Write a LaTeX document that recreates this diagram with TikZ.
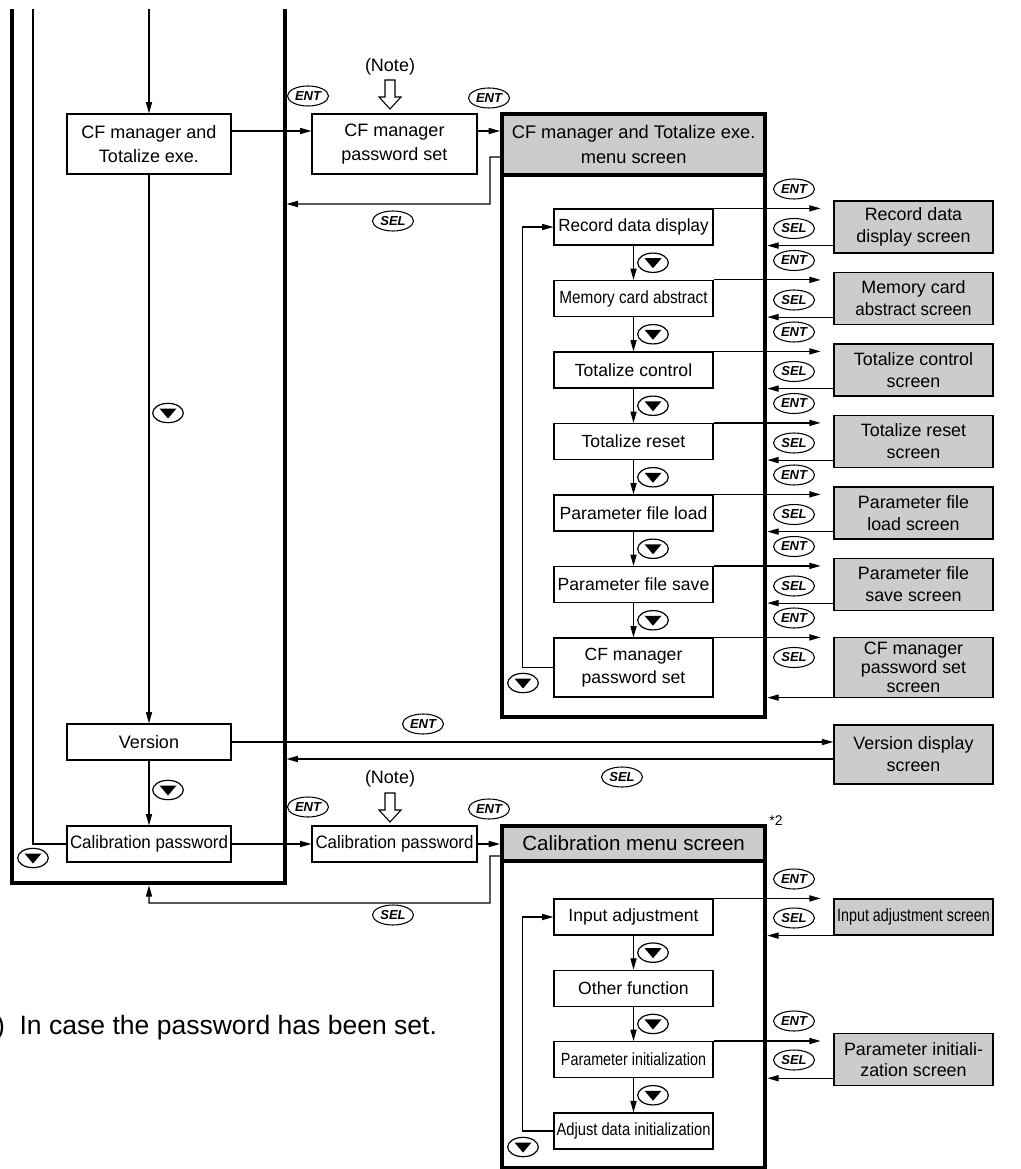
\documentclass[tikz,border=0pt]{standalone}
\usepackage{fontspec}
\setmainfont{Liberation Sans}
\usepackage{graphicx}
\usetikzlibrary{shapes.geometric,arrows.meta,calc}
\definecolor{scrgray}{RGB}{204,204,204}
\def\pxu{0.75pt}
\newcommand\sqz[2]{\scalebox{#1}[1]{#2}}
\begin{document}
\begin{tikzpicture}[x=0.75pt,y=-0.75pt,
  arr/.style={line width=0.9pt,-{Triangle[length=8.5pt,width=4.6pt]}},
  ln/.style={line width=0.9pt},
  thickfr/.style={line width=3pt},
  mbox/.style={draw,line width=0.9pt,fill=white,inner sep=0,align=center,font=\fontsize{13.5pt}{18pt}\selectfont},
  ibox/.style={draw,line width=0.9pt,fill=white,inner sep=0,align=center,minimum width=159*\pxu,minimum height=36*\pxu,font=\fontsize{13.2pt}{17.5pt}\selectfont},
  sbox/.style={draw,line width=1.1pt,fill=scrgray,inner sep=0,align=center,minimum width=159*\pxu,minimum height=52*\pxu,font=\fontsize{13.4pt}{16.5pt}\selectfont},
  hdr/.style={draw,line width=3pt,fill=scrgray,inner sep=0,align=center,minimum width=263.3*\pxu},
  kbtn/.style={ellipse,draw,line width=0.8pt,minimum width=30.75pt,minimum height=15pt,inner sep=0,font=\fontsize{9.75pt}{9.75pt}\selectfont\bfseries\itshape},
  dkey/.style={ellipse,draw,line width=0.9pt,minimum width=23pt,minimum height=14.5pt,inner sep=0,
    path picture={\fill ([shift={(-8.5,-4.5)}]path picture bounding box.center) -- ([shift={(8.5,-4.5)}]path picture bounding box.center) -- ([shift={(0,5.5)}]path picture bounding box.center) -- cycle;}},
  notelbl/.style={font=\fontsize{13.5pt}{16pt}\selectfont,inner sep=0}
]
\useasboundingbox (0,0) rectangle (1020,1169);
\clip (0,0) rectangle (1020,1169);

% ---------- left column ----------
\coordinate (topL) at (33,9);
\coordinate (topM) at (149,9);
\coordinate (rtopO) at (286.5,9);
\coordinate (fbot) at (149,885.3);
\draw[thickfr] (12,9) -- (12,883.3) -- (284.5,883.3) -- (284.5,9);

\node[mbox,minimum width=164*\pxu,minimum height=60*\pxu] (cfm) at (149,144) {CF manager and\\Totalize exe.};
\node[mbox,minimum width=165*\pxu,minimum height=60*\pxu] (cfpw) at (394.5,144) {CF manager\\password set};
\node[mbox,minimum width=164*\pxu,minimum height=36*\pxu] (ver) at (149,742) {Version};
\node[mbox,minimum width=164*\pxu,minimum height=36*\pxu] (calp) at (149,844) {\sqz{0.94}{Calibration password}};
\node[mbox,minimum width=165*\pxu,minimum height=36*\pxu] (calp2) at (394.5,844) {\sqz{0.94}{Calibration password}};

\node[notelbl] (nt1) at (390,67) {(Note)};
\node[notelbl] (nt2) at (390,779) {(Note)};
\draw[line width=0.8pt,fill=white] (385,80) -- (395,80) -- (395,97) -- (401,97) -- (390,109) -- (379,97) -- (385,97) -- cycle;
\draw[line width=0.8pt,fill=white] (385,793) -- (395,793) -- (395,810) -- (401,810) -- (390,822) -- (379,810) -- (385,810) -- cycle;

% ---------- CF menu ----------
\node[hdr,minimum height=60.2*\pxu,font=\fontsize{13.7pt}{18.75pt}\selectfont] (cfhdr) at (633.65,144.6) {CF manager and Totalize exe.\\menu screen};
\draw[thickfr] (502,174.7) -- (502,716.7) -- (765.3,716.7) -- (765.3,174.7);

\node[ibox] (it1) at (633.5,227) {\sqz{0.965}{Record data display}};
\node[ibox] (it2) at (633.5,298.5) {\sqz{0.87}{Memory card abstract}};
\node[ibox] (it3) at (633.5,370) {Totalize control};
\node[ibox] (it4) at (633.5,441.5) {Totalize reset};
\node[ibox] (it5) at (633.5,513) {Parameter file load};
\node[ibox] (it6) at (633.5,584.5) {Parameter file save};
\node[ibox,minimum height=59*\pxu] (it7) at (633.5,667.5) {CF manager\\password set};

\node[sbox] (sc1) at (913.5,227) {Record data\\display screen};
\node[sbox] (sc2) at (913.5,298.5) {Memory card\\\sqz{0.95}{abstract screen}};
\node[sbox] (sc3) at (913.5,370) {Totalize control\\screen};
\node[sbox] (sc4) at (913.5,441.5) {Totalize reset\\screen};
\node[sbox] (sc5) at (913.5,513) {Parameter file\\load screen};
\node[sbox] (sc6) at (913.5,584.5) {Parameter file\\save screen};
\node[sbox,minimum height=60*\pxu,font=\fontsize{13.4pt}{14pt}\selectfont] (sc7) at (913.5,667.5) {CF manager\\password set\\screen};

\foreach \i/\t in {1/209,2/280.5,3/352,4/423.5,5/495,6/566.5,7/638}{
  \node[kbtn] (e\i) at (794,\t-20) {ENT};
  \node[kbtn] (s\i) at (794,\t+19.5) {SEL};
  \draw[arr] (it\i.north east) -- ++(107,0);
  \draw[arr] (sc\i.west |- it\i.south) -- (cfhdr.east |- it\i.south);
}
\foreach \i/\j/\t in {1/2/209,2/3/280.5,3/4/352,4/5/423.5,5/6/495,6/7/566.5}{
  \draw[arr] (it\i.south) -- (it\j.north);
  \node[dkey] (dk\i) at (653,\t+53.75) {};
}
\draw[arr] (it7.west) -- ++(-31,0) |- (it1.west);
\node[dkey] (dkl) at (523,683) {};

% ---------- calibration menu ----------
\node[hdr,minimum height=35.7*\pxu,font=\fontsize{15.4pt}{18pt}\selectfont] (calhdr) at (633.65,843.35) {Calibration menu screen};
\draw[thickfr] (502,861.2) -- (502,1167.8) -- (765.3,1167.8) -- (765.3,861.2);
\node[inner sep=0,font=\fontsize{10.5pt}{12pt}\selectfont] (star) at (776,821) {*2};

\node[ibox] (ci1) at (633.5,917) {Input adjustment};
\node[ibox] (ci2) at (633.5,988.3) {Other function};
\node[ibox] (ci3) at (633.5,1059.6) {\sqz{0.815}{Parameter initialization}};
\node[ibox] (ci4) at (633.5,1130.9) {\sqz{0.837}{Adjust data initialization}};

\node[sbox,minimum height=36*\pxu] (cs1) at (913.5,917) {\sqz{0.8}{Input adjustment screen}};
\node[sbox] (cs3) at (913.5,1059.6) {Parameter initiali-\\zation screen};

\node[kbtn] (ce1) at (794,879) {ENT};
\node[kbtn] (cse1) at (794,918) {SEL};
\node[kbtn] (ce3) at (794,1021) {ENT};
\node[kbtn] (cse3) at (794,1060) {SEL};
\draw[arr] (ci1.north east) -- ++(107,0);
\draw[arr] (ci3.north east) -- ++(107,0);
\draw[arr] (cs1.west |- ci1.south) -- (calhdr.east |- ci1.south);
\draw[arr] (cs3.west |- ci3.south) -- (calhdr.east |- ci3.south);

\draw[arr] (ci1.south) -- (ci2.north);
\draw[arr] (ci2.south) -- (ci3.north);
\draw[arr] (ci3.south) -- (ci4.north);
\node[dkey] (cd1) at (653,952.65) {};
\node[dkey] (cd2) at (653,1023.95) {};
\node[dkey] (cd3) at (653,1095.25) {};
\draw[arr] (ci4.west) -- ++(-31,0) |- (ci1.west);
\node[dkey] (cdl) at (523,1147) {};

% ---------- version ----------
\node[sbox,minimum height=59*\pxu] (verscr) at (913.5,754.5) {Version display\\screen};

% ---------- main connectors ----------
\draw[arr] (topM) -- (cfm.north);
\draw[arr] (cfm.south) -- (ver.north);
\draw[arr] (ver.south) -- (calp.north);
\draw[ln] (calp.west) -| (topL);
\node[dkey] (dm1) at (168,413) {};
\node[dkey] (dm2) at (168,790) {};
\node[dkey] (dm3) at (33,858) {};

\draw[arr] ($(cfm.east)+(0,-13)$) coordinate (a1) -- (a1 -| cfpw.west);
\draw[arr] (a1 -| cfpw.east) -- (a1 -| cfhdr.west);
\node[kbtn] (me1) at (308,96) {ENT};
\node[kbtn] (me2) at (489,98) {ENT};
\coordinate (sb1) at (490,204);
\draw[arr] ($(cfhdr.west)+(0,12.4)$) -- (490,157) -- (sb1) -- (sb1 -| rtopO);
\node[kbtn] (ms1) at (393,221) {SEL};

\draw[arr] (ver.east) -- (ver.east -| verscr.west);
\draw[arr] ($(verscr.west)+(0,4.5)$) coordinate (v2) -- (v2 -| rtopO);
\node[kbtn] (me3) at (423,724) {ENT};
\node[kbtn] (ms3) at (622,777) {SEL};

\draw[arr] (calp.east) -- (calp.east -| calp2.west);
\draw[arr] (calp2.east) -- (calp2.east -| calhdr.west);
\node[kbtn] (me4) at (308,807) {ENT};
\node[kbtn] (me5) at (489,809) {ENT};
\coordinate (sb2) at (490,903);
\draw[arr] ($(calhdr.west)+(0,12.6)$) -- (490,856) -- (sb2) -- (sb2 -| fbot) -- (fbot);
\node[kbtn] (ms4) at (393,915) {SEL};

\node[anchor=base west,inner sep=0,font=\fontsize{19.9pt}{22pt}\selectfont] (foot) at (-69,1034) {(Note)\hspace{11pt}In case the password has been set.};
\end{tikzpicture}
\end{document}
